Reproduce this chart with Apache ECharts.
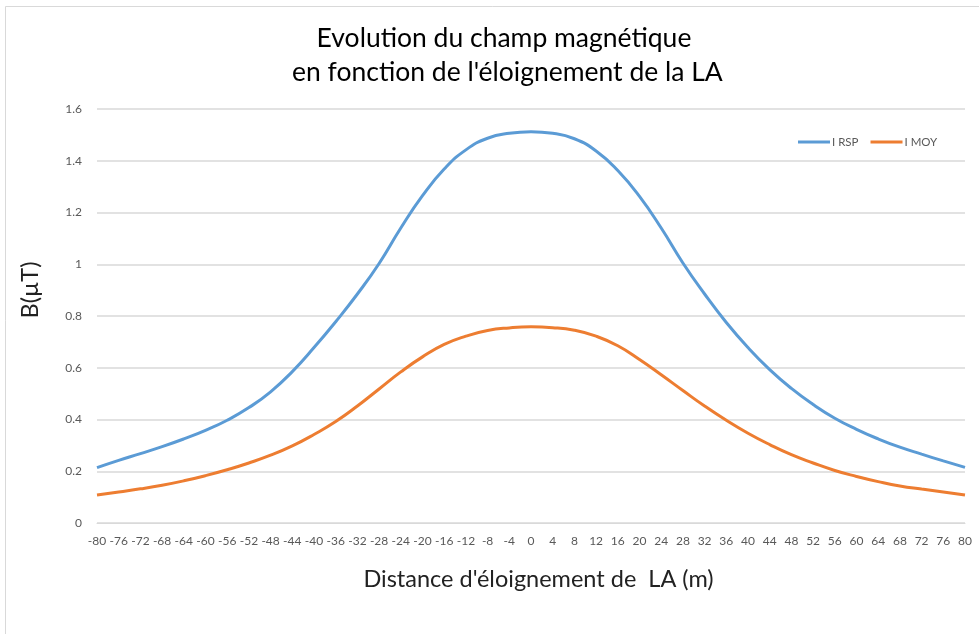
<!DOCTYPE html>
<html>
<head>
<meta charset="utf-8">
<script src="https://cdn.jsdelivr.net/npm/echarts@6/dist/echarts.min.js"></script>
<style>
  html, body { margin: 0; padding: 0; background: #fff; }
  #chart { width: 979px; height: 634px; }
</style>
</head>
<body>
<div id="chart"></div>
<script>
// distance (m), one point every 4 m
const distances = [-80, -76, -72, -68, -64, -60, -56, -52, -48, -44, -40, -36, -32, -28, -24, -20, -16, -12, -8, -4,
  0, 4, 8, 12, 16, 20, 24, 28, 32, 36, 40, 44, 48, 52, 56, 60, 64, 68, 72, 76, 80];

// B (µT)
const iRsp = [0.214, 0.242, 0.268, 0.295, 0.325, 0.358, 0.397, 0.446, 0.507, 0.585, 0.678, 0.778, 0.885, 1.003, 1.14, 1.265, 1.368, 1.442, 1.487, 1.506,
  1.512, 1.506, 1.485, 1.438, 1.362, 1.262, 1.14, 1.005, 0.885, 0.775, 0.678, 0.593, 0.52, 0.458, 0.405, 0.362, 0.325, 0.293, 0.266, 0.24, 0.215];

const iMoy = [0.108, 0.12, 0.132, 0.146, 0.163, 0.183, 0.206, 0.232, 0.262, 0.298, 0.342, 0.392, 0.452, 0.518, 0.584, 0.642, 0.69, 0.722, 0.744, 0.754,
  0.758, 0.755, 0.745, 0.722, 0.685, 0.632, 0.573, 0.512, 0.452, 0.397, 0.347, 0.303, 0.264, 0.232, 0.203, 0.18, 0.16, 0.143, 0.131, 0.12, 0.108];

const chart = echarts.init(document.getElementById('chart'), null, { renderer: 'canvas' });

const FONT = 'Lato, "Open Sans", sans-serif';
const GRAY = '#595959';

chart.setOption({
  backgroundColor: '#fff',
  animation: false,
  graphic: [{
    type: 'rect',
    shape: { x: 5.5, y: 6.5, width: 1000, height: 1000 },
    style: { fill: 'none', stroke: '#d9d9d9', lineWidth: 1 },
    silent: true
  }],
  title: {
    text: 'Evolution du champ magnétique\n en fonction de l\'éloignement de la LA',
    left: 499, top: 16, textAlign: 'center',
    textStyle: { fontFamily: FONT, fontSize: 26.5, fontWeight: 'normal', color: '#000', lineHeight: 34 }
  },
  legend: {
    left: 793, top: 131,
    icon: 'rect', itemWidth: 32, itemHeight: 3, itemGap: 12,
    textStyle: { fontFamily: FONT, fontSize: 11.5, color: GRAY, padding: [0, 0, 0, -3] },
    data: ['I RSP', 'I MOY']
  },
  grid: { left: 97, right: 14, top: 109, bottom: 111 },
  xAxis: {
    type: 'value', min: -80, max: 80, interval: 4,
    name: 'Distance d\'éloignement de  LA (m)',
    nameLocation: 'middle', nameGap: 44,
    nameTextStyle: { fontFamily: FONT, fontSize: 23.5, color: '#222', padding: [0, 0, 0, 15] },
    axisLine: { show: true, lineStyle: { color: '#d9d9d9' } },
    axisTick: { show: false },
    splitLine: { show: false },
    axisLabel: { fontFamily: FONT, fontSize: 12, color: GRAY, margin: 12 }
  },
  yAxis: {
    type: 'value', min: 0, max: 1.6, interval: 0.2,
    name: 'B(µT)',
    nameLocation: 'middle', nameGap: 55,
    nameTextStyle: { fontFamily: FONT, fontSize: 23.5, color: '#222', padding: [0, 0, 0, 52] },
    axisLine: { show: false },
    axisTick: { show: false },
    splitLine: { lineStyle: { color: '#d9d9d9', width: 1.5 } },
    axisLabel: { fontFamily: FONT, fontSize: 12, color: GRAY, margin: 15 }
  },
  series: [
    {
      name: 'I RSP', type: 'line', smooth: 0.5, symbol: 'none',
      data: distances.map((d, i) => [d, iRsp[i]]),
      lineStyle: { color: '#5B9BD5', width: 3 },
      itemStyle: { color: '#5B9BD5' }
    },
    {
      name: 'I MOY', type: 'line', smooth: 0.5, symbol: 'none',
      data: distances.map((d, i) => [d, iMoy[i]]),
      lineStyle: { color: '#ED7D31', width: 3 },
      itemStyle: { color: '#ED7D31' }
    }
  ]
});
</script>
</body>
</html>
